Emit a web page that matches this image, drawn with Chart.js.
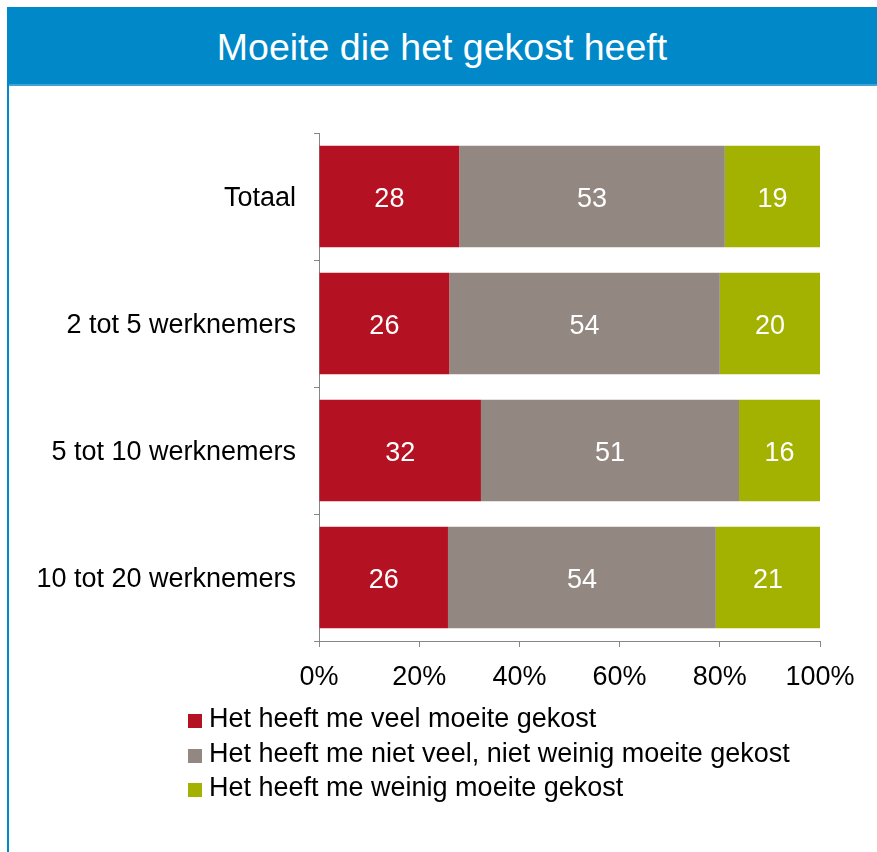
<!DOCTYPE html>
<html>
<head>
<meta charset="utf-8">
<script src="https://cdn.jsdelivr.net/npm/chart.js@4"></script>
<style>
    body { margin: 0; background: #fff; font-family: "Liberation Sans", Arial, sans-serif; }
    #page { position: relative; width: 877px; height: 852px; overflow: hidden; }
    #header {
        position: absolute; left: 7px; top: 7px; width: 870px; height: 77px;
        background: #0088c8; border-bottom: 2px solid #3fa3d6;
        color: #fff; font-size: 37.5px; line-height: 81px; text-align: center;
    }
    #leftLine { position: absolute; left: 7px; top: 84px; width: 2px; height: 768px; background: #0088c8; }
    #chartBox { position: absolute; left: 0; top: 86px; }
    #legend { position: absolute; left: 188px; top: 701px; font-size: 27px; color: #000; }
    .row { height: 34.5px; line-height: 34.5px; white-space: nowrap; }
    .box { display: inline-block; width: 14px; height: 14px; margin-right: 7px; vertical-align: -1px; }
</style>
</head>
<body>
<div id="page">
    <div id="header">Moeite die het gekost heeft</div>
    <div id="leftLine"></div>
    <div id="chartBox"><canvas id="chart" width="877" height="620" style="width:877px;height:620px"></canvas></div>
    <div id="legend"></div>
</div>
<script>
// categories and series (raw percentages as shown in the labels)
const categories = ["Totaal", "2 tot 5 werknemers", "5 tot 10 werknemers", "10 tot 20 werknemers"]
const seriesNames = [
    "Het heeft me veel moeite gekost",
    "Het heeft me niet veel, niet weinig moeite gekost",
    "Het heeft me weinig moeite gekost"
]
const veelMoeite = [28, 26, 32, 26]
const nietVeelNietWeinig = [53, 54, 51, 54]
const weinigMoeite = [19, 20, 16, 21]
const seriesColors = ["#b41222", "#928781", "#a3b100"]
const xTicks = [0, 20, 40, 60, 80, 100]

const rawSeries = [veelMoeite, nietVeelNietWeinig, weinigMoeite]

// 100% stacked: normalise each row to its total
const rowTotals = categories.map((c, i) => rawSeries.reduce((s, arr) => s + arr[i], 0))
const datasets = rawSeries.map((arr, k) => ({
    label: seriesNames[k],
    data: arr.map((v, i) => v / rowTotals[i] * 100),
    raw: arr,
    backgroundColor: seriesColors[k],
    borderWidth: 0,
    categoryPercentage: 1,
    barPercentage: 0.8
}))

// white value labels in the middle of each bar piece
const valueLabels = {
    id: 'valueLabels',
    afterDatasetsDraw(chart) {
        const ctx = chart.ctx
        ctx.save()
        ctx.fillStyle = '#fff'
        ctx.font = '27px "Liberation Sans", Arial, sans-serif'
        ctx.textAlign = 'center'
        ctx.textBaseline = 'middle'
        chart.data.datasets.forEach((ds, k) => {
            chart.getDatasetMeta(k).data.forEach((bar, i) => {
                ctx.fillText(String(ds.raw[i]), (bar.x + bar.base) / 2, bar.y + 3)
            })
        })
        ctx.restore()
    }
}

const axisGray = '#868686'
Chart.defaults.font.family = '"Liberation Sans", Arial, sans-serif'

new Chart(document.getElementById('chart').getContext('2d'), {
    type: 'bar',
    data: { labels: categories, datasets: datasets },
    plugins: [valueLabels],
    options: {
        indexAxis: 'y',
        responsive: false,
        animation: false,
        layout: { padding: { top: 47, right: 57, bottom: 15, left: 0 } },
        plugins: { legend: { display: false }, tooltip: { enabled: false } },
        scales: {
            x: {
                stacked: true,
                min: 0,
                max: 100,
                afterBuildTicks: s => { s.ticks = xTicks.map(v => ({ value: v })) },
                ticks: { callback: v => v + '%', color: '#000', font: { size: 27 }, padding: 14, maxRotation: 0 },
                grid: { drawOnChartArea: false, tickLength: 6, color: axisGray },
                border: { color: axisGray, width: 1 },
                afterFit: s => { s.height = 50 }
            },
            y: {
                stacked: true,
                ticks: { color: '#000', font: { size: 27 }, padding: 18, labelOffset: 2 },
                grid: { drawOnChartArea: false, tickLength: 5, color: axisGray, offset: true },
                border: { color: axisGray, width: 1 },
                afterFit: s => { s.width = 319 }
            }
        }
    }
})

// legend as a vertical list under the chart
const legend = document.getElementById('legend')
seriesNames.forEach((name, k) => {
    const row = document.createElement('div')
    row.className = 'row'
    const box = document.createElement('span')
    box.className = 'box'
    box.style.background = seriesColors[k]
    row.appendChild(box)
    row.appendChild(document.createTextNode(name))
    legend.appendChild(row)
})
</script>
</body>
</html>
